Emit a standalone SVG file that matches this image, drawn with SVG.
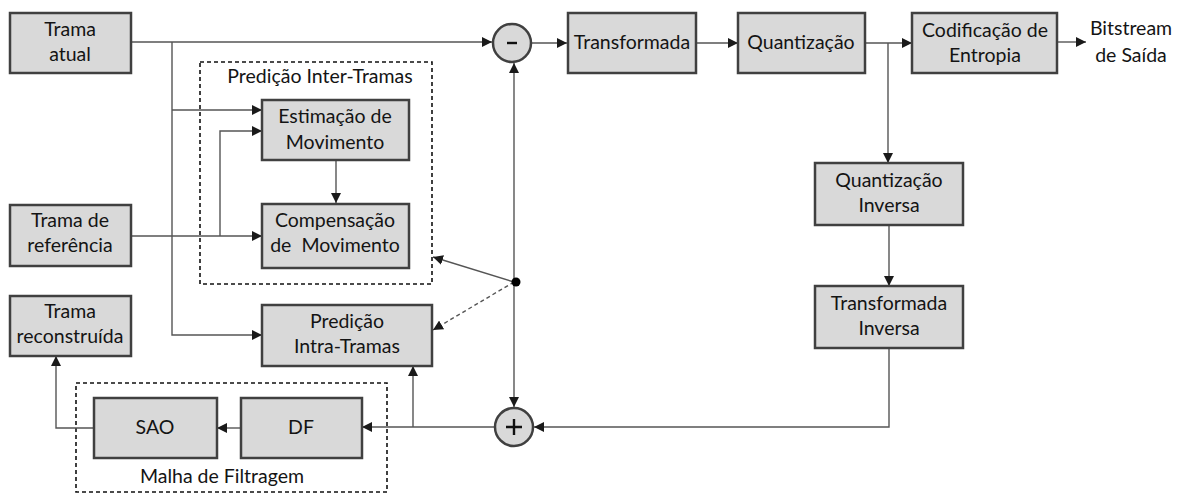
<svg xmlns="http://www.w3.org/2000/svg" width="1184" height="494" viewBox="0 0 1184 494">
  <style>
    .box { fill: #d9d9d9; stroke: #404040; stroke-width: 2.5; }
    .sum { fill: #d9d9d9; stroke: #404040; stroke-width: 2.5; }
    .group { fill: none; stroke: #111; stroke-width: 1.6; stroke-dasharray: 4 3; }
    .lbl { font-family: Lato, "Liberation Sans", sans-serif; font-size: 19.5px; fill: #141414; text-anchor: middle; white-space: pre; }
    .wire { fill: none; stroke: #555; stroke-width: 1.4; }
    .wire-d { fill: none; stroke: #555; stroke-width: 1.4; stroke-dasharray: 4 3; }
    .sign { fill: none; stroke: #111; stroke-width: 2.4; }
  </style>
  <defs>
    <marker id="ah" viewBox="0 0 10 10" refX="10" refY="5" markerWidth="10" markerHeight="10" markerUnits="userSpaceOnUse" orient="auto">
      <path d="M0,0 L10,5 L0,10 z" fill="#1a1a1a"/>
    </marker>
  </defs>

  <rect width="1184" height="494" fill="#ffffff"/>

  <!-- dashed grouping frames -->
  <g id="inter-group">
    <rect class="group" x="200" y="62" width="232" height="222"/>
    <text class="lbl" x="320" y="83">Predição Inter-Tramas</text>
  </g>
  <g id="filter-group">
    <rect class="group" x="76" y="383" width="311" height="109"/>
    <text class="lbl" x="222" y="483">Malha de Filtragem</text>
  </g>

  <!-- connectors -->
  <g id="connectors">
    <path class="wire" d="M131,42 H492" marker-end="url(#ah)"/>
    <path class="wire" d="M532,43 H567" marker-end="url(#ah)"/>
    <path class="wire" d="M696,43 H738" marker-end="url(#ah)"/>
    <path class="wire" d="M865,43 H912" marker-end="url(#ah)"/>
    <path class="wire" d="M1057,42 H1086" marker-end="url(#ah)"/>
    <path class="wire" d="M888,43 V163" marker-end="url(#ah)"/>
    <path class="wire" d="M889,225 V286" marker-end="url(#ah)"/>
    <path class="wire" d="M889,348 V427 H534" marker-end="url(#ah)"/>
    <path class="wire" d="M172,42 V335 H262" marker-end="url(#ah)"/>
    <path class="wire" d="M172,110 H262" marker-end="url(#ah)"/>
    <path class="wire" d="M131,236 H262" marker-end="url(#ah)"/>
    <path class="wire" d="M220,236 V131 H262" marker-end="url(#ah)"/>
    <path class="wire" d="M336,160 V203" marker-end="url(#ah)"/>
    <path class="wire" d="M514,282 V63" marker-end="url(#ah)"/>
    <path class="wire" d="M514,282 V407" marker-end="url(#ah)"/>
    <path class="wire" d="M514,282 L433,257" marker-end="url(#ah)"/>
    <path class="wire-d" d="M514,282 L433,330" marker-end="url(#ah)"/>
    <path class="wire" d="M494,427 H362" marker-end="url(#ah)"/>
    <path class="wire" d="M413,427 V366" marker-end="url(#ah)"/>
    <path class="wire" d="M241,428 H217" marker-end="url(#ah)"/>
    <path class="wire" d="M94,428 H56 V356" marker-end="url(#ah)"/>
    <circle cx="516" cy="282" r="4.5" fill="#000"/>
  </g>

  <!-- nodes -->
  <g id="trama-atual">
    <rect class="box" x="10" y="13" width="121" height="60"/>
    <text class="lbl" x="70" y="36">Trama</text>
    <text class="lbl" x="70" y="61">atual</text>
  </g>
  <g id="trama-referencia">
    <rect class="box" x="10" y="205" width="121" height="61"/>
    <text class="lbl" x="70" y="227">Trama de</text>
    <text class="lbl" x="70" y="252">referência</text>
  </g>
  <g id="trama-reconstruida">
    <rect class="box" x="10" y="296" width="121" height="60"/>
    <text class="lbl" x="70" y="318">Trama</text>
    <text class="lbl" x="70" y="343">reconstruída</text>
  </g>
  <g id="estimacao">
    <rect class="box" x="262" y="100" width="147" height="60"/>
    <text class="lbl" x="335" y="123">Estimação de</text>
    <text class="lbl" x="335" y="149">Movimento</text>
  </g>
  <g id="compensacao">
    <rect class="box" x="262" y="204" width="147" height="64"/>
    <text class="lbl" x="335" y="227">Compensação</text>
    <text class="lbl" x="335" y="252">de  Movimento</text>
  </g>
  <g id="intra">
    <rect class="box" x="262" y="305" width="170" height="61"/>
    <text class="lbl" x="347" y="328">Predição</text>
    <text class="lbl" x="347" y="353">Intra-Tramas</text>
  </g>
  <g id="sao">
    <rect class="box" x="94" y="398" width="123" height="60"/>
    <text class="lbl" x="155" y="434">SAO</text>
  </g>
  <g id="df">
    <rect class="box" x="241" y="398" width="121" height="60"/>
    <text class="lbl" x="301" y="434">DF</text>
  </g>
  <g id="subtrator">
    <circle class="sum" cx="512" cy="43" r="19"/>
    <path class="sign" d="M507,43 H517"/>
  </g>
  <g id="somador">
    <circle class="sum" cx="514" cy="427" r="19"/>
    <path class="sign" d="M506,427 H522 M514,419 V435"/>
  </g>
  <g id="transformada">
    <rect class="box" x="568" y="13" width="128" height="60"/>
    <text class="lbl" x="632" y="49">Transformada</text>
  </g>
  <g id="quantizacao">
    <rect class="box" x="738" y="13" width="127" height="60"/>
    <text class="lbl" x="801" y="49">Quantização</text>
  </g>
  <g id="codificacao">
    <rect class="box" x="912" y="13" width="145" height="60"/>
    <text class="lbl" x="985" y="37">Codificação de</text>
    <text class="lbl" x="985" y="62">Entropia</text>
  </g>
  <g id="bitstream">
    <text class="lbl" x="1131" y="35">Bitstream</text>
    <text class="lbl" x="1131" y="62">de Saída</text>
  </g>
  <g id="quant-inversa">
    <rect class="box" x="815" y="163" width="148" height="62"/>
    <text class="lbl" x="889" y="187">Quantização</text>
    <text class="lbl" x="889" y="212">Inversa</text>
  </g>
  <g id="transf-inversa">
    <rect class="box" x="815" y="286" width="148" height="62"/>
    <text class="lbl" x="889" y="310">Transformada</text>
    <text class="lbl" x="889" y="335">Inversa</text>
  </g>
</svg>
